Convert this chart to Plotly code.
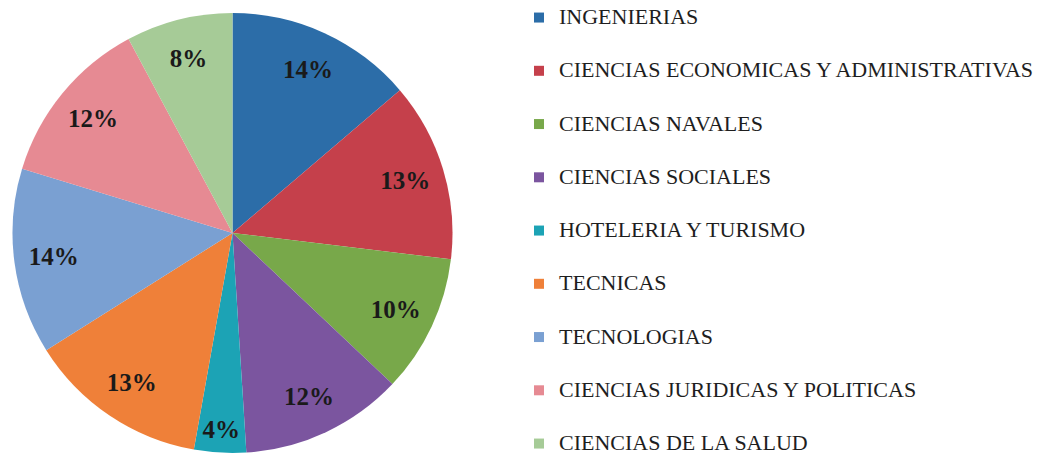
import plotly.graph_objects as go

categories = [
    "INGENIERIAS",
    "CIENCIAS ECONOMICAS Y ADMINISTRATIVAS",
    "CIENCIAS NAVALES",
    "CIENCIAS SOCIALES",
    "HOTELERIA Y TURISMO",
    "TECNICAS",
    "TECNOLOGIAS",
    "CIENCIAS JURIDICAS Y POLITICAS",
    "CIENCIAS DE LA SALUD",
]
shares = [13.7, 13.1, 10.1, 11.9, 3.8, 13.2, 13.6, 12.4, 7.8]
colors = ["#2C6DA8", "#C5404B", "#78A84A", "#7B559F", "#1CA3B5",
          "#EF8039", "#7AA0D2", "#E68A93", "#A6CB97"]

W, H = 1050, 456
dom = dict(x=[12.5 / W, 452.5 / W], y=[3 / H, 443 / H])
fig = go.Figure()
# coloured slices
fig.add_trace(go.Pie(
    labels=categories, values=shares, sort=False,
    direction="clockwise", rotation=0,
    marker=dict(colors=colors, line=dict(width=0)),
    textinfo="none", showlegend=False, domain=dom,
    hoverinfo="label+percent",
))
# percentage labels, placed in an outer ring (as in the original)
fig.add_trace(go.Pie(
    labels=categories, values=shares, sort=False,
    direction="clockwise", rotation=0, hole=0.64,
    marker=dict(colors=["rgba(0,0,0,0)"] * len(categories), line=dict(width=0)),
    texttemplate="%{percent:.0%}", textposition="inside",
    insidetextorientation="horizontal",
    insidetextfont=dict(family="Liberation Serif", size=25, color="#1a1a1a", weight="bold"),
    showlegend=False, domain=dom, hoverinfo="skip",
))
# legend entries
for i, (c, col) in enumerate(zip(categories, colors)):
    fig.add_trace(go.Scatter(
        x=[None], y=[None], mode="markers",
        name='<span style="font-size:22px">%s</span>' % c,
        marker=dict(symbol="square", size=10, color=col),
        legendgroup="g%d" % i, showlegend=True, hoverinfo="skip",
    ))

fig.update_layout(
    width=W, height=H,
    margin=dict(l=0, r=0, t=0, b=0),
    paper_bgcolor="white", plot_bgcolor="white",
    xaxis=dict(visible=False), yaxis=dict(visible=False),
    showlegend=True,
    legend=dict(
        x=519 / W, xanchor="left", y=1 - 2.5 / H, yanchor="top",
        font=dict(family="Liberation Serif", size=17, color="#1e1e1e"),
        tracegroupgap=28.15, bgcolor="rgba(0,0,0,0)", maxheight=700,
        itemclick=False, itemdoubleclick=False,
    ),
)
fig.write_html("out.html", config={"displayModeBar": False},
               post_script="document.body.style.margin='0';")
